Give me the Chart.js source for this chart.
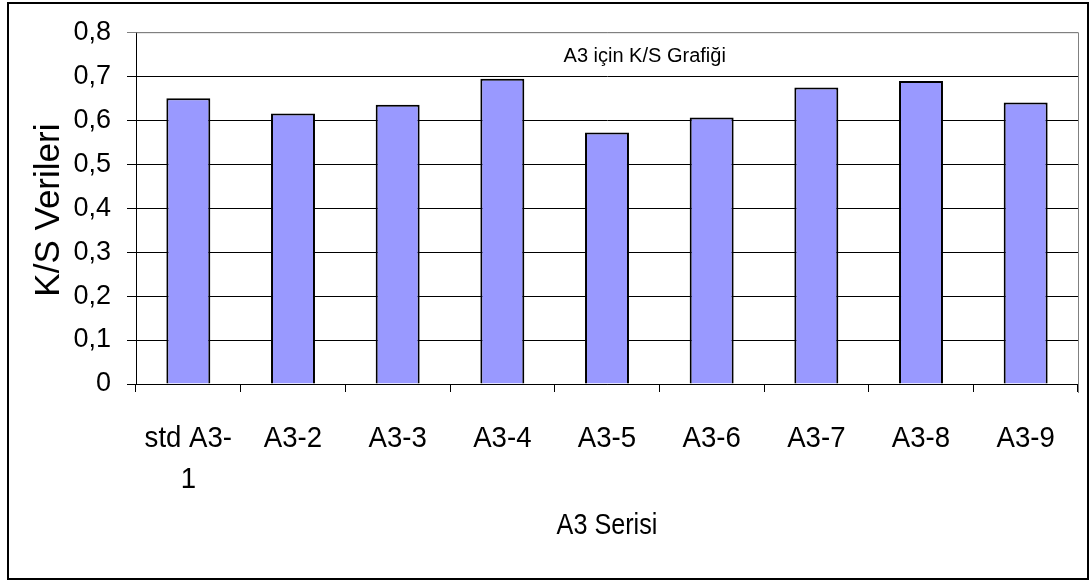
<!DOCTYPE html>
<html>
<head>
<meta charset="utf-8">
<script src="https://cdn.jsdelivr.net/npm/chart.js@4/dist/chart.umd.min.js"></script>
<style>
  html, body { margin: 0; padding: 0; background: #ffffff; }
  #wrap { width: 1092px; height: 581px; }
</style>
</head>
<body>
<div id="wrap"><canvas id="c" width="1092" height="581"></canvas></div>
<script>
// A3 serisi K/S değerleri
const categories = [['std A3-', '1'], 'A3-2', 'A3-3', 'A3-4', 'A3-5', 'A3-6', 'A3-7', 'A3-8', 'A3-9'];
const ksValues = [0.650, 0.615, 0.635, 0.694, 0.572, 0.606, 0.674, 0.689, 0.640];
const yTickLabels = ['0', '0,1', '0,2', '0,3', '0,4', '0,5', '0,6', '0,7', '0,8'];
const chartTitle = 'A3 için K/S Grafiği';
const xAxisTitle = 'A3 Serisi';
const yAxisTitle = 'K/S Verileri';

const SANS = '"Liberation Sans", Arial, sans-serif';

// draws text squeezed horizontally (narrow face look)
function narrowText(ctx, text, x, y, squeeze) {
  ctx.save();
  ctx.translate(x, y);
  ctx.scale(squeeze, 1);
  ctx.fillText(text, 0, 0);
  ctx.restore();
}

// Frame, plot border, category labels and titles
const decorations = {
  id: 'decorations',
  beforeDatasetsDraw(chart) {
    const { ctx, chartArea: a } = chart;
    ctx.save();
    ctx.strokeStyle = '#808080';
    ctx.lineWidth = 1;
    ctx.beginPath();
    ctx.moveTo(a.left, a.top + 0.5);
    ctx.lineTo(a.right + 0.5, a.top + 0.5);
    ctx.lineTo(a.right + 0.5, a.bottom + 9);
    ctx.stroke();
    ctx.restore();
  },
  afterDraw(chart) {
    const { ctx, chartArea: a } = chart;
    const xs = chart.scales.x;
    ctx.save();
    // outer frame
    ctx.strokeStyle = '#000000';
    ctx.lineWidth = 2;
    ctx.strokeRect(8, 3, 1080, 576);

    ctx.fillStyle = '#000000';
    ctx.textAlign = 'center';
    ctx.textBaseline = 'alphabetic';

    // category labels
    ctx.font = '30px ' + SANS;
    categories.forEach((lab, i) => {
      const lines = Array.isArray(lab) ? lab : [lab];
      const x = xs.getPixelForTick(i);
      lines.forEach((t, k) => narrowText(ctx, t, x, a.bottom + 63 + k * 41, 0.92));
    });

    // title inside the plot
    ctx.font = '20px ' + SANS;
    ctx.textBaseline = 'middle';
    ctx.fillText(chartTitle, a.left + (a.right - a.left) * 0.54, a.top + 24);

    // x axis title, centred under the plot
    ctx.font = '30px ' + SANS;
    ctx.textBaseline = 'alphabetic';
    narrowText(ctx, xAxisTitle, (a.left + a.right) / 2, a.bottom + 150, 0.84);

    // y axis title
    ctx.font = '35px ' + SANS;
    ctx.textBaseline = 'middle';
    ctx.translate(49, (a.top + a.bottom) / 2 + 2);
    ctx.rotate(-Math.PI / 2);
    ctx.fillText(yAxisTitle, 0, 0);
    ctx.restore();
  }
};

new Chart(document.getElementById('c'), {
  type: 'bar',
  data: {
    labels: categories,
    datasets: [{
      data: ksValues,
      backgroundColor: '#9999FF',
      borderColor: '#000000',
      borderWidth: 2,
      borderSkipped: 'start',
      categoryPercentage: 1.0,
      barPercentage: 0.42
    }]
  },
  options: {
    responsive: false,
    animation: false,
    devicePixelRatio: 1,
    layout: { padding: { top: 30, right: 14, bottom: 0, left: 0 } },
    plugins: {
      legend: { display: false },
      title: { display: false },
      tooltip: { enabled: false }
    },
    scales: {
      x: {
        offset: true,
        afterFit(scale) { scale.height = 197; },
        grid: {
          offset: true,
          drawOnChartArea: false,
          drawTicks: true,
          tickLength: 8,
          lineWidth: 1,
          color: (ctx) => (ctx.index === categories.length ? '#808080' : '#000000')
        },
        border: { display: true, color: '#000000', width: 1 },
        ticks: { display: false, autoSkip: false }
      },
      y: {
        min: 0,
        max: 0.8,
        afterFit(scale) { scale.width = 136; },
        grid: {
          drawTicks: true,
          tickLength: 9,
          lineWidth: 1,
          color: (ctx) => (ctx.index === yTickLabels.length - 1 ? '#808080' : '#000000')
        },
        border: { display: true, color: '#000000', width: 1 },
        ticks: {
          stepSize: 0.1,
          color: '#000000',
          padding: 16,
          font: { family: SANS, size: 27 },
          callback: (value, index) => yTickLabels[index]
        }
      }
    }
  },
  plugins: [decorations]
});
</script>
</body>
</html>
